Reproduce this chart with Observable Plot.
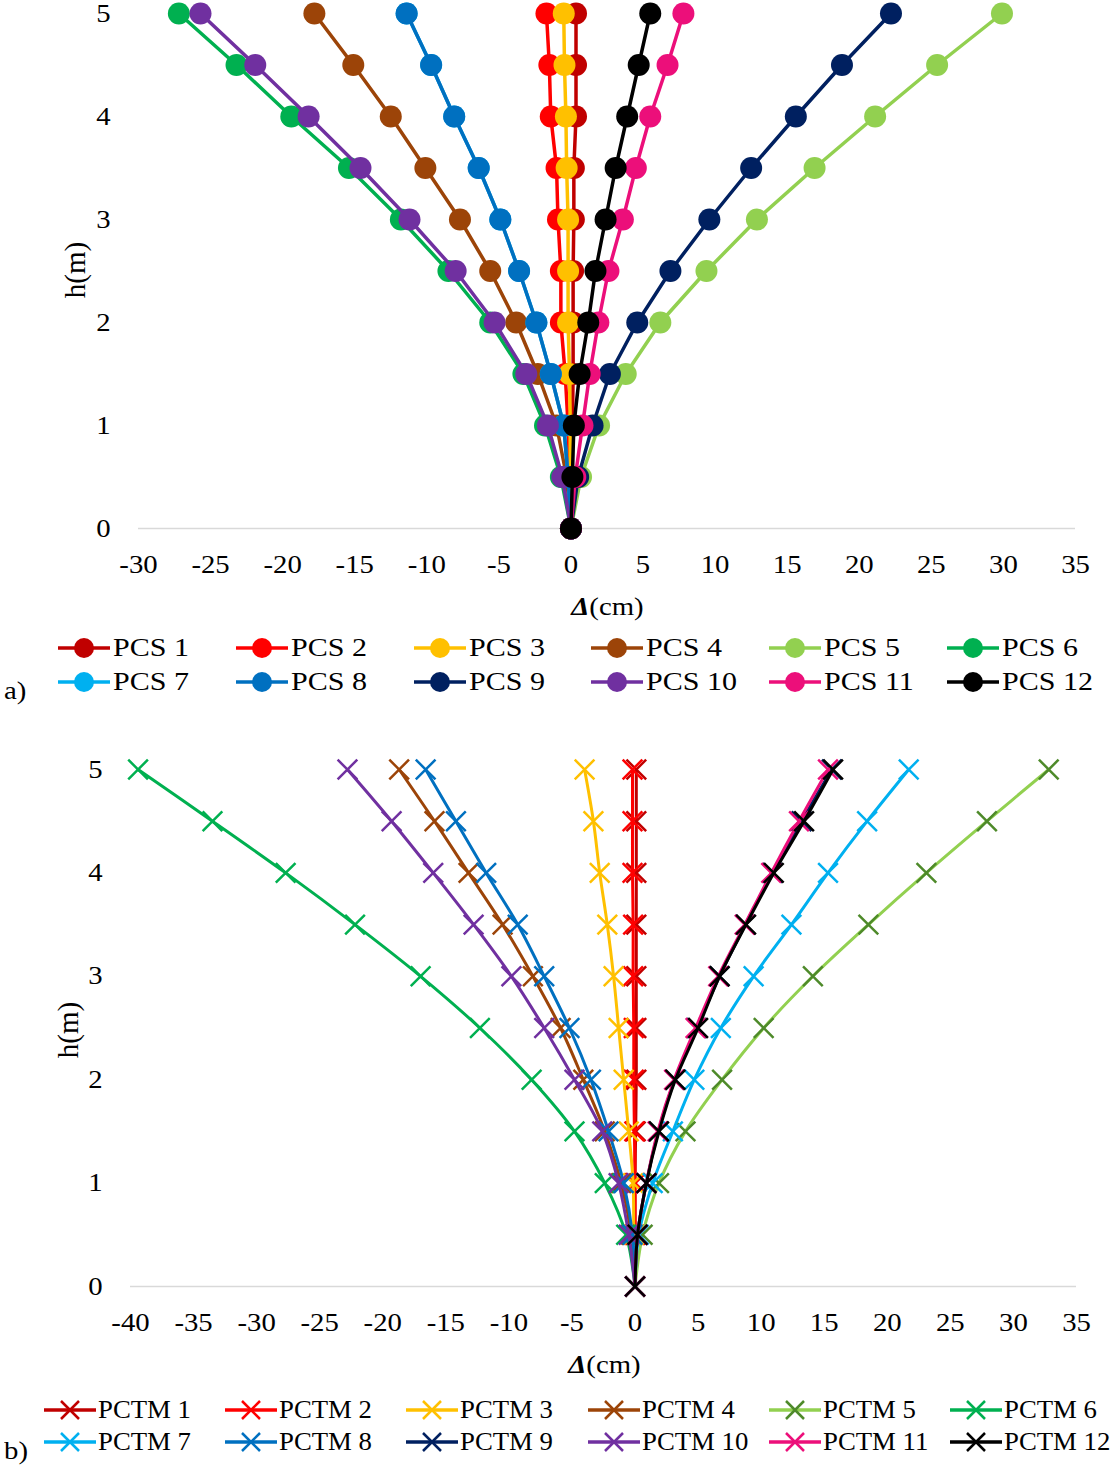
<!DOCTYPE html>
<html><head><meta charset="utf-8">
<script src="https://cdn.jsdelivr.net/npm/d3@7"></script>
<script src="https://cdn.jsdelivr.net/npm/@observablehq/plot@0.6"></script>
<style>
body{margin:0;background:#fff;font-family:"Liberation Serif","Times New Roman",serif;}
#page{position:relative;width:1114px;height:1467px;overflow:hidden;background:#fff;}
.abs{position:absolute;}
.txt{font-size:25px;line-height:30px;color:#000;white-space:nowrap;display:inline-block;transform:scaleX(1.15);}
.item{position:absolute;height:30px;display:flex;align-items:center;}
</style></head><body><div id="page"></div>
<script>
// ---------- data ----------
const heights = [0, 0.5, 1, 1.5, 2, 2.5, 3, 3.5, 4, 4.5, 5];
const xTicksA = [-30, -25, -20, -15, -10, -5, 0, 5, 10, 15, 20, 25, 30, 35];
const xTicksB = [-40, -35, -30, -25, -20, -15, -10, -5, 0, 5, 10, 15, 20, 25, 30, 35];
const yTicks = [0, 1, 2, 3, 4, 5];

const pcsNames = ["PCS 1","PCS 2","PCS 3","PCS 4","PCS 5","PCS 6","PCS 7","PCS 8","PCS 9","PCS 10","PCS 11","PCS 12"];
const pctmNames = ["PCTM 1","PCTM 2","PCTM 3","PCTM 4","PCTM 5","PCTM 6","PCTM 7","PCTM 8","PCTM 9","PCTM 10","PCTM 11","PCTM 12"];
const seriesColors = ["#C00000","#FF0000","#FFC000","#9C4408","#92D050","#00B050","#00B0F0","#0070C0","#002060","#7030A0","#EC0F7A","#000000"];
const pctmMarkerColors = ["#C00000","#FF0000","#FFC000","#9C4408","#4E8A2A","#00B050","#00B0F0","#0070C0","#002060","#7030A0","#EC0F7A","#000000"];

// PCS (a) – drift Δ (cm) at each height
const pcs1  = [0, 0.05, 0.1, 0.15, 0.15, 0.15, 0.2, 0.2, 0.35, 0.35, 0.35];
const pcs2  = [0, -0.1, -0.2, -0.4, -0.7, -0.7, -0.9, -1.0, -1.4, -1.5, -1.7];
const pcs3  = [0, -0.05, -0.05, -0.1, -0.2, -0.2, -0.2, -0.3, -0.35, -0.45, -0.5];
const pcs4  = [0, -0.3, -1.0, -2.3, -3.8, -5.6, -7.7, -10.1, -12.5, -15.1, -17.8];
const pcs5  = [0, 0.7, 1.95, 3.8, 6.2, 9.4, 12.9, 16.9, 21.1, 25.4, 29.9];
const pcs6  = [0, -0.7, -1.8, -3.3, -5.6, -8.5, -11.8, -15.4, -19.4, -23.2, -27.2];
const pcs7  = [0, -0.2, -0.5, -1.4, -2.4, -3.6, -4.9, -6.4, -8.1, -9.7, -11.4];
const pcs8  = [0, -0.2, -0.5, -1.4, -2.4, -3.6, -4.9, -6.4, -8.1, -9.7, -11.4];
const pcs9  = [0, 0.5, 1.5, 2.7, 4.6, 6.9, 9.6, 12.5, 15.6, 18.8, 22.2];
const pcs10 = [0, -0.6, -1.6, -3.1, -5.3, -8.0, -11.2, -14.6, -18.2, -21.9, -25.7];
const pcs11 = [0, 0.3, 0.8, 1.3, 1.9, 2.6, 3.6, 4.5, 5.5, 6.7, 7.8];
const pcs12 = [0, 0.1, 0.2, 0.6, 1.2, 1.7, 2.4, 3.1, 3.9, 4.7, 5.5];

// PCTM (b)
const pctm1  = [0, 0, 0, 0.05, 0.1, 0.1, 0.1, 0.1, 0.1, 0.1, 0.1];
const pctm2  = [0, 0, 0, -0.05, -0.1, -0.1, -0.15, -0.15, -0.2, -0.2, -0.2];
const pctm3  = [0, -0.1, -0.15, -0.5, -0.9, -1.3, -1.7, -2.2, -2.8, -3.3, -4.0];
const pctm4  = [0, -0.3, -1.1, -2.4, -4.1, -5.9, -8.1, -10.5, -13.2, -15.9, -18.7];
const pctm5  = [0, 0.6, 1.9, 4.0, 6.9, 10.2, 14.1, 18.5, 23.1, 27.9, 32.8];
const pctm6  = [0, -0.7, -2.4, -4.8, -8.2, -12.3, -17.0, -22.2, -27.7, -33.5, -39.4];
const pctm7  = [0, 0.3, 1.4, 3.0, 4.7, 6.8, 9.4, 12.4, 15.3, 18.4, 21.7];
const pctm8  = [0, -0.2, -0.9, -2.1, -3.5, -5.2, -7.2, -9.3, -11.8, -14.2, -16.6];
const pctm9  = [0, 0.2, 0.9, 1.85, 3.15, 4.9, 6.7, 8.75, 10.9, 13.2, 15.6];
const pctm10 = [0, -0.5, -1.3, -2.6, -4.8, -7.2, -9.8, -12.8, -16.0, -19.3, -22.8];
const pctm11 = [0, 0.2, 0.9, 1.8, 3.1, 4.8, 6.6, 8.7, 10.8, 13.0, 15.3];
const pctm12 = [0, 0.2, 0.9, 1.9, 3.2, 5.0, 6.7, 8.8, 11.0, 13.4, 15.7];

const pcsValues = [pcs1,pcs2,pcs3,pcs4,pcs5,pcs6,pcs7,pcs8,pcs9,pcs10,pcs11,pcs12];
const pctmValues = [pctm1,pctm2,pctm3,pctm4,pctm5,pctm6,pctm7,pctm8,pctm9,pctm10,pctm11,pctm12];

// ---------- helpers ----------
const page = document.getElementById("page");
const rowsFor = (names, values) => names.map((n, i) => heights.map((h, j) => ({name: n, d: values[i][j], h})));

function stretchTicks(svg) {
  d3.select(svg).selectAll('g[aria-label$="tick label"] text').each(function() {
    const t = this.getAttribute("transform") || "";
    this.setAttribute("transform", t + " scale(1.15,1)");
  });
}

function place(el, left, top) {
  el.style.position = "absolute";
  el.style.left = left + "px";
  el.style.top = top + "px";
  page.appendChild(el);
}

function html(s) { const d = document.createElement("div"); d.innerHTML = s; return d.firstElementChild; }

// ---------- chart a ----------
const rowsA = rowsFor(pcsNames, pcsValues);
const marksA = [Plot.ruleY([0], {stroke: "#d9d9d9", strokeWidth: 1.3})];
rowsA.forEach((rows, i) => {
  marksA.push(Plot.line(rows, {x: "d", y: "h", stroke: seriesColors[i], strokeWidth: 3.5}));
  marksA.push(Plot.dot(rows, {x: "d", y: "h", fill: seriesColors[i], r: 11}));
});
marksA.push(Plot.axisX({ticks: xTicksA, tickSize: 0, tickPadding: 27, tickFormat: d => String(d), label: null}));
marksA.push(Plot.axisY({ticks: yTicks, tickSize: 0, tickPadding: 28, tickFormat: d => String(d), label: null}));

const chartA = Plot.plot({
  width: 1114, height: 590,
  marginLeft: 138, marginRight: 39, marginTop: 13, marginBottom: 62,
  x: {domain: [-30, 35]},
  y: {domain: [0, 5]},
  style: {fontFamily: "Liberation Serif, Times New Roman, serif", fontSize: "25px", color: "#000", background: "transparent", overflow: "visible"},
  marks: marksA
});
stretchTicks(chartA);
place(chartA, 0, 0);

// ---------- chart b ----------
const rowsB = rowsFor(pctmNames, pctmValues);
const marksB = [Plot.ruleY([0], {stroke: "#d9d9d9", strokeWidth: 1.3})];
rowsB.forEach((rows, i) => {
  marksB.push(Plot.line(rows, {x: "d", y: "h", stroke: seriesColors[i], strokeWidth: 3, curve: "catmull-rom"}));
  marksB.push(Plot.dot(rows, {x: "d", y: "h", symbol: "times", stroke: pctmMarkerColors[i], strokeWidth: 2.5, r: 9}));
});
marksB.push(Plot.axisX({ticks: xTicksB, tickSize: 0, tickPadding: 27, tickFormat: d => String(d), label: null}));
marksB.push(Plot.axisY({ticks: yTicks, tickSize: 0, tickPadding: 28, tickFormat: d => String(d), label: null}));

const chartB = Plot.plot({
  width: 1114, height: 590,
  marginLeft: 130, marginRight: 38, marginTop: 13, marginBottom: 60,
  x: {domain: [-40, 35]},
  y: {domain: [0, 5]},
  style: {fontFamily: "Liberation Serif, Times New Roman, serif", fontSize: "25px", color: "#000", background: "transparent", overflow: "visible"},
  marks: marksB
});
stretchTicks(chartB);
place(chartB, 0, 756);

// ---------- axis titles ----------
function xTitle(cx, cy) {
  const el = html('<div class="abs" style="width:200px;text-align:center;"><span class="txt"><b><i>Δ</i></b>(cm)</span></div>');
  place(el, cx - 100, cy - 15);
}
function yTitle(cx, cy) {
  const el = html('<div class="abs" style="width:120px;height:34px;line-height:34px;text-align:center;font-size:29px;transform:rotate(-90deg);">h(m)</div>');
  place(el, cx - 60, cy - 17);
}
xTitle(607, 607);
xTitle(604, 1365);
yTitle(75, 270);
yTitle(68, 1030);

// ---------- legends ----------
function legend(names, lineColors, markColors, kind, x0, dx, rowY, textOffset, sx) {
  names.forEach((n, i) => {
    const col = i % 6, row = Math.floor(i / 6);
    const left = x0 + col * dx;
    const cy = rowY[row];
    const marker = kind === "circle"
      ? `<circle cx="27" cy="15" r="10" fill="${markColors[i]}"/>`
      : `<path d="M18,6L36,24M36,6L18,24" stroke="${markColors[i]}" stroke-width="2.5" fill="none"/>`;
    const el = html(`<div class="item"><svg width="54" height="30" style="display:block"><line x1="1" y1="15" x2="53" y2="15" stroke="${lineColors[i]}" stroke-width="3.5"/>${marker}</svg><span class="txt" style="margin-left:${textOffset - 54}px;transform-origin:left center;transform:scaleX(${sx});">${n}</span></div>`);
    place(el, left, cy - 15);
  });
}
legend(pcsNames, seriesColors, seriesColors, "circle", 57, 177.8, [648, 682], 56, 1.2);
legend(pctmNames, seriesColors, pctmMarkerColors, "times", 43, 181.2, [1410, 1442], 55, 1.07);

// ---------- panel letters ----------
place(html('<div class="txt" style="transform-origin:left center;">a)</div>'), 4, 676);
place(html('<div class="txt" style="transform-origin:left center;">b)</div>'), 4, 1436);
</script>
</body></html>
